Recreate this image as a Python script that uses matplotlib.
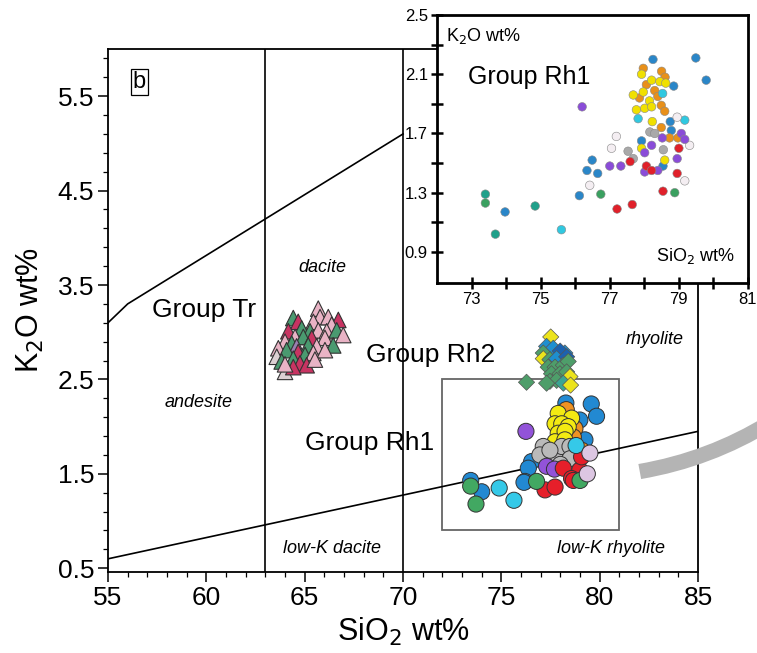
import numpy as np
import matplotlib
matplotlib.use("Agg")
import matplotlib.pyplot as plt
from matplotlib import patches
from matplotlib.ticker import MultipleLocator, FixedLocator

plt.rcParams['font.family'] = ['Liberation Sans', 'DejaVu Sans']

# ---- data ----
# Group Tr (triangles)
tr_x = [65.69, 65.78, 64.42, 64.67, 66.20, 66.71, 65.44, 66.37, 64.17, 64.85,
        65.27, 65.69, 66.12, 66.63, 66.96, 64.51, 64.93, 65.36, 66.03, 66.45,
        64.00, 64.34, 64.59, 65.18, 65.61, 63.66, 64.08, 64.67, 65.02, 65.44,
        66.03, 63.58, 64.42, 64.76, 65.10, 65.52, 63.83, 64.00, 64.42, 64.00]
tr_y = [3.25, 3.16, 3.15, 3.11, 3.16, 3.13, 3.11, 3.08, 3.01, 3.04,
        3.01, 3.02, 3.01, 3.02, 2.97, 2.95, 2.95, 2.94, 2.94, 2.86,
        2.90, 2.88, 2.85, 2.86, 2.85, 2.83, 2.81, 2.79, 2.76, 2.78,
        2.81, 2.74, 2.72, 2.67, 2.65, 2.71, 2.69, 2.58, 2.63, 2.66]
tr_c = ['p', 'p', 'G', 'r', 'p', 'r', 'p', 'p', 'r', 'G',
        'G', 'p', 'p', 'G', 'p', 'p', 'G', 'r', 'p', 'G',
        'p', 'G', 'v', 'G', 'p', 'p', 'G', 'r', 'G', 'p',
        'p', 'l', 'G', 'r', 'r', 'p', 'G', 'l', 'r', 'p']

# Group Rh2 (diamonds)
rh2_x = [77.51, 77.30, 77.64, 78.23, 77.99, 77.13, 77.13, 77.47, 77.81, 78.32,
         77.38, 77.73, 78.15, 78.40, 77.55, 77.98, 78.32, 78.49, 77.47, 77.81,
         78.15, 78.52, 76.28, 77.30]
rh2_y = [2.95, 2.85, 2.83, 2.78, 2.80, 2.78, 2.72, 2.71, 2.72, 2.74,
         2.63, 2.63, 2.65, 2.69, 2.56, 2.56, 2.58, 2.53, 2.48, 2.49,
         2.46, 2.44, 2.47, 2.46]
rh2_c = ['y', 'b', 'b', 'b', 'd', 'G', 'y', 'G', 'b', 'd',
         'G', 'G', 'G', 'G', 'G', 'G', 'G', 'y', 'G', 'G',
         't', 'y', 'G', 'G']

# Group Rh1 (circles, main panel)
rh1_x = [78.28, 79.57, 79.84, 78.99, 79.25, 76.54, 76.37, 76.20, 73.44, 74.00, 76.15,
         78.30, 78.74, 78.66, 79.08,
         77.89, 78.57, 77.73, 78.07, 78.40, 77.89, 78.24, 77.73, 78.23, 78.20,
         77.13, 76.96, 77.73, 78.07, 78.49, 78.49, 77.47, 78.00,
         76.25, 77.30, 77.70,
         78.15, 78.99, 78.57, 79.08, 77.22, 77.73, 78.66,
         76.79, 79.00, 73.44, 73.71,
         74.89, 75.64, 78.80,
         79.50, 79.37]
rh1_y = [2.25, 2.24, 2.11, 2.07, 1.86, 1.63, 1.56, 1.42, 1.43, 1.31, 1.41,
         2.18, 1.98, 1.89, 1.75,
         2.14, 2.09, 2.03, 2.03, 2.00, 1.93, 1.95, 1.84, 1.86, 1.63,
         1.79, 1.70, 1.68, 1.79, 1.79, 1.66, 1.75, 1.60,
         1.95, 1.58, 1.55,
         1.56, 1.54, 1.45, 1.68, 1.33, 1.36, 1.43,
         1.42, 1.43, 1.37, 1.18,
         1.35, 1.22, 1.80,
         1.72, 1.50]
rh1_c = ['b'] * 11 + ['o'] * 4 + ['y'] * 10 + ['g'] * 8 + ['v'] * 3 + ['r'] * 7 + \
        ['G'] * 4 + ['c'] * 3 + ['l'] * 2

# Group Rh1 (inset)
ins_x = [78.25, 79.49, 79.79, 78.85, 78.75, 78.78, 77.92, 78.54, 76.49, 76.34, 76.65, 76.12, 73.97,
         77.97, 78.50, 78.06, 78.30, 78.39, 77.86, 78.49, 78.59, 78.49, 78.73, 78.97, 78.60,
         77.92, 78.21, 78.45, 78.62, 77.97, 77.68, 78.15, 77.77, 78.01, 78.21, 78.23, 77.92, 78.59,
         78.53, 77.82, 79.17, 75.60,
         78.16, 78.30, 78.55, 77.53, 77.68,
         78.95, 77.19, 77.05, 79.31, 79.17, 76.42,
         79.07, 78.52, 79.17, 78.21, 78.01, 77.00, 77.32, 78.95, 78.01, 78.39, 76.20,
         79.00, 77.59, 78.06, 78.21, 78.95, 78.54, 77.21, 77.65,
         78.88, 76.74, 73.40,
         73.40, 74.84, 73.69]
ins_y = [2.20, 2.21, 2.06, 2.02, 1.78, 1.72, 1.65, 1.48, 1.52, 1.45, 1.43, 1.28, 1.17,
         2.14, 2.12, 2.03, 1.99, 1.95, 1.94, 1.89, 1.85, 1.74, 1.67, 1.67, 2.08,
         2.10, 2.06, 2.05, 2.04, 1.98, 1.96, 1.92, 1.86, 1.87, 1.88, 1.78, 1.60, 1.52,
         1.97, 1.80, 1.79, 1.05,
         1.71, 1.70, 1.59, 1.58, 1.53,
         1.81, 1.68, 1.60, 1.62, 1.38, 1.35,
         1.70, 1.67, 1.66, 1.62, 1.57, 1.48, 1.48, 1.53, 1.44, 1.45, 1.88,
         1.60, 1.51, 1.48, 1.45, 1.43, 1.31, 1.19, 1.22,
         1.30, 1.29, 1.23,
         1.29, 1.21, 1.02]
ins_c = ['b'] * 13 + ['o'] * 12 + ['y'] * 13 + ['c'] * 4 + ['g'] * 5 + ['h'] * 6 + \
        ['v'] * 11 + ['r'] * 8 + ['G'] * 3 + ['t'] * 3

upper_x = [55, 56, 70]
upper_y = [3.1, 3.3, 5.1]
lower_x = [55, 85]
lower_y = [0.6, 1.95]
div_x = [63, 70]

tri_col = {'G': '#4a9a70', 'p': '#e9b3c5', 'r': '#c83462', 'l': '#dcd0d3', 'v': '#9a7fb0'}
dia_col = {'G': '#4e9e6a', 'y': '#ece31c', 'b': '#1e8fd0', 'd': '#1c62b0', 't': '#3aa592'}
cir_col = {'b': '#2289d2', 'y': '#f3ea12', 'o': '#ef9222', 'g': '#bababa', 'v': '#9253d9',
           'r': '#e61f2a', 'G': '#42a862', 'c': '#35c9e8', 'l': '#dcc6e2'}
ins_col = {'b': '#2a86c8', 'o': '#e8901a', 'y': '#f0e000', 'c': '#30c8e0', 'g': '#a9a9a9',
           'h': '#f4eef2', 'v': '#8a4cd8', 'r': '#e0202a', 'G': '#3aa060', 't': '#20a08a'}

fig = plt.figure(figsize=(7.57, 6.53), dpi=100)
ax = fig.add_axes([0.1427, 0.124, 0.7794, 0.801])

ax.plot(upper_x, upper_y, color='black', lw=1.2)
ax.plot(lower_x, lower_y, color='black', lw=1.2)
for xv in div_x:
    ax.axvline(xv, color='black', lw=1.2)
ax.add_patch(patches.Rectangle((72, 0.9), 9, 1.6, fill=False, ec='#666666', lw=1.3))

ax.scatter(tr_x, tr_y, s=125, marker='^', c=[tri_col[k] for k in tr_c],
           edgecolors='#333333', linewidths=0.8, zorder=3)
ax.scatter(rh2_x, rh2_y, s=68, marker='D', c=[dia_col[k] for k in rh2_c],
           edgecolors='#555555', linewidths=0.5, zorder=3)
ax.scatter(rh1_x, rh1_y, s=135, marker='o', c=[cir_col[k] for k in rh1_c],
           edgecolors='#333333', linewidths=0.7, zorder=3)

ax.set_xlim(55, 85)
ax.set_ylim(0.46, 6.0)
ax.set_xticks([55, 60, 65, 70, 75, 80, 85])
ax.set_yticks([0.5, 1.5, 2.5, 3.5, 4.5, 5.5])
ax.xaxis.set_minor_locator(MultipleLocator(1))
ax.yaxis.set_minor_locator(FixedLocator(np.arange(0.5, 6.0, 0.2)))
ax.tick_params(which='major', direction='out', length=7, width=1.1, labelsize=19, pad=3)
ax.tick_params(which='minor', direction='out', length=3.5, width=0.9)
for sp in ax.spines.values():
    sp.set_linewidth(1.3)
ax.set_xlabel('SiO$_2$ wt%', fontsize=22, labelpad=4)
ax.set_ylabel('K$_2$O wt%', fontsize=22, labelpad=8)

ax.text(56.6, 5.65, 'b', fontsize=17, ha='center', va='center',
        bbox=dict(boxstyle='square,pad=0.1', fc='white', ec='black', lw=0.9))
it = dict(fontsize=13, style='italic', ha='center', va='center')
ax.text(59.6, 2.26, 'andesite', **it)
ax.text(65.9, 3.69, 'dacite', **it)
ax.text(82.8, 2.92, 'rhyolite', **it)
ax.text(66.4, 0.71, 'low-K dacite', **it)
ax.text(80.6, 0.71, 'low-K rhyolite', **it)
ax.text(59.9, 3.24, 'Group Tr', fontsize=19, ha='center', va='center')
ax.text(71.4, 2.76, 'Group Rh2', fontsize=19, ha='center', va='center')
ax.text(68.3, 1.83, 'Group Rh1', fontsize=19, ha='center', va='center')

# ---- inset ----
ins = fig.add_axes([0.5773, 0.5666, 0.4108, 0.4104])
ins.set_facecolor('white')
ins.scatter(ins_x, ins_y, s=38, marker='o', c=[ins_col[k] for k in ins_c],
            edgecolors='#888888', linewidths=0.4, zorder=3)
ins.set_xlim(72, 81)
ins.set_ylim(0.69, 2.5)
ins.set_xticks(range(73, 82))
ins.set_xticklabels([str(v) if v % 2 else '' for v in range(73, 82)])
yt = [0.9, 1.1, 1.3, 1.5, 1.7, 1.9, 2.1, 2.3, 2.5]
ins.set_yticks(yt)
ins.set_yticklabels([f'{v:.1f}' if i % 2 == 0 else '' for i, v in enumerate(yt)])
ins.tick_params(direction='inout', length=9, width=1.8, labelsize=12, pad=2)
for sp in ins.spines.values():
    sp.set_linewidth(2)
ins.text(0.03, 0.92, 'K$_2$O wt%', transform=ins.transAxes, fontsize=13, va='center')
ins.text(0.1, 0.77, 'Group Rh1', transform=ins.transAxes, fontsize=18, va='center')
ins.text(0.96, 0.1, 'SiO$_2$ wt%', transform=ins.transAxes, fontsize=13, va='center', ha='right')

# grey connector arc
arc = patches.FancyArrowPatch((0.8415, 0.2772), (1.02, 0.355), transform=fig.transFigure,
                              connectionstyle='arc3,rad=0.1', arrowstyle='-',
                              lw=11, color='#b4b4b4', capstyle='butt')
fig.add_artist(arc)

fig.savefig('out.png', dpi=100)
